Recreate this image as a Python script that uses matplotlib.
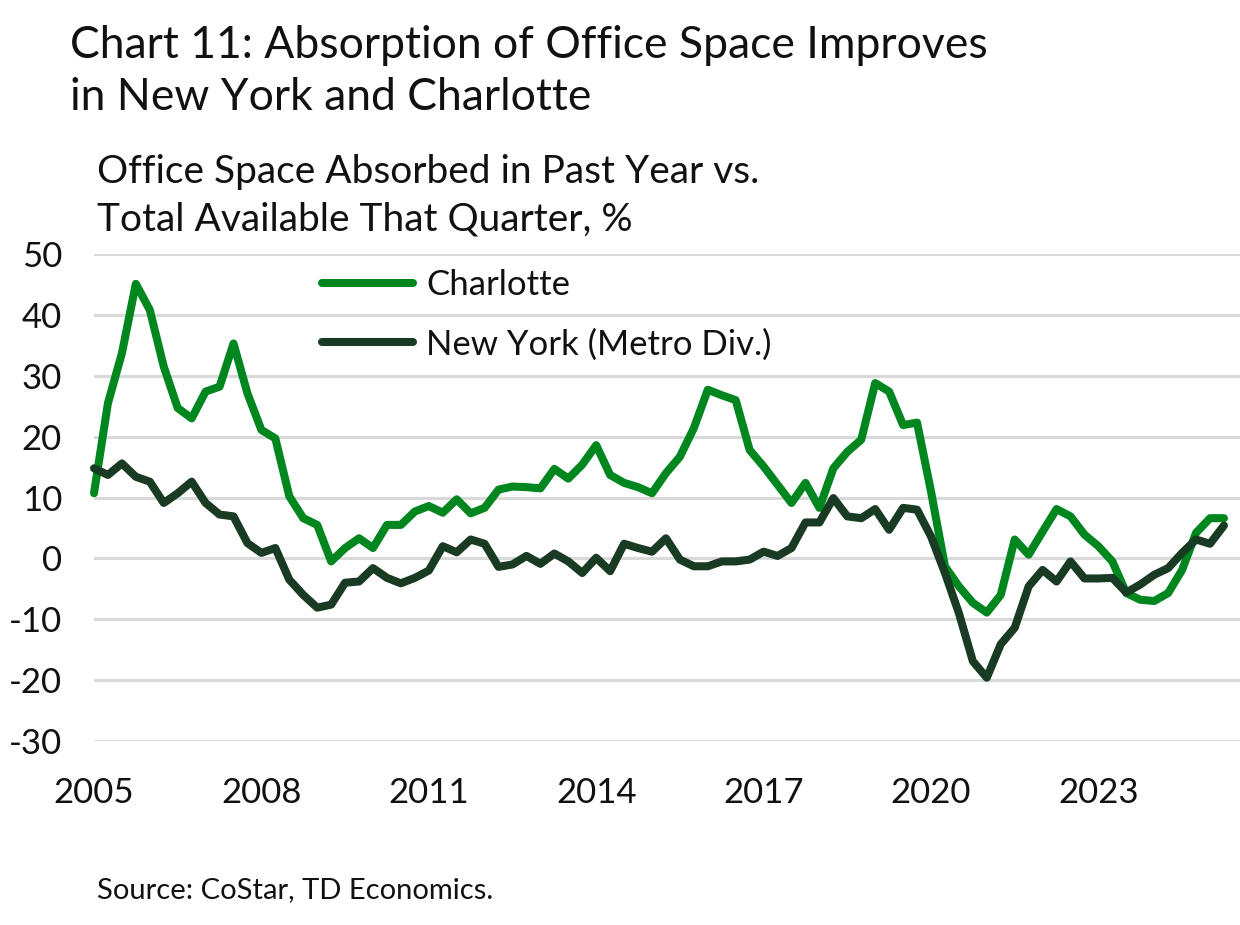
import matplotlib
matplotlib.use("Agg")
import matplotlib.pyplot as plt
import numpy as np

plt.rcParams['font.family'] = ['Lato', 'DejaVu Sans']
plt.rcParams['axes.unicode_minus'] = False

start_year = 2005
charlotte = [10.7, 25.5, 33.7, 45.1, 40.8, 31.5, 24.7, 23.0, 27.4, 28.2,
             35.3, 27.1, 21.1, 19.7, 10.2, 6.6, 5.5, -0.5, 1.7, 3.3,
             1.7, 5.5, 5.5, 7.7, 8.6, 7.5, 9.7, 7.4, 8.3, 11.3,
             11.8, 11.7, 11.5, 14.7, 13.1, 15.4, 18.6, 13.7, 12.4, 11.7,
             10.7, 14.0, 16.7, 21.4, 27.7, 26.8, 26.0, 17.8, 15.1, 12.1,
             9.1, 12.4, 8.3, 14.8, 17.5, 19.5, 28.8, 27.4, 21.9, 22.3,
             11.0, -1.3, -4.6, -7.3, -8.9, -6.0, 3.1, 0.6, 4.4, 8.1,
             6.9, 3.9, 2.0, -0.5, -5.7, -6.8, -7.0, -5.7, -1.9, 4.2,
             6.6, 6.6]
new_york = [14.8, 13.7, 15.6, 13.4, 12.6, 9.1, 10.7, 12.6, 9.1, 7.2,
            6.9, 2.5, 0.9, 1.7, -3.5, -6.0, -8.1, -7.6, -4.0, -3.8,
            -1.6, -3.2, -4.1, -3.2, -2.0, 2.0, 1.0, 3.1, 2.4, -1.4,
            -1.0, 0.4, -0.9, 0.8, -0.5, -2.4, 0.1, -2.1, 2.4, 1.7,
            1.1, 3.3, -0.2, -1.3, -1.3, -0.5, -0.5, -0.2, 1.1, 0.4,
            1.7, 5.9, 5.9, 9.9, 6.9, 6.6, 8.1, 4.7, 8.3, 8.0,
            3.6, -2.4, -9.0, -16.9, -19.6, -14.1, -11.4, -4.6, -1.9, -3.8,
            -0.5, -3.3, -3.3, -3.2, -5.6, -4.3, -2.7, -1.6, 0.9, 3.1,
            2.4, 5.4]
series_names = ["Charlotte", "New York (Metro Div.)"]
year_ticks = [2005, 2008, 2011, 2014, 2017, 2020, 2023]
y_ticks = [-30, -20, -10, 0, 10, 20, 30, 40, 50]

x = start_year + np.arange(len(charlotte)) / 4.0

W, H = 1240, 925
fig = plt.figure(figsize=(W / 100, H / 100), dpi=100)
left, right, top, bottom = 94, 1240, 254, 741
ax = fig.add_axes([left / W, 1 - bottom / H, (right - left) / W, (bottom - top) / H])

c_char = '#00861f'
c_ny = '#193a23'
ax.plot(x, charlotte, color=c_char, lw=5.8, solid_joinstyle='round', solid_capstyle='round',
        label=series_names[0], zorder=3, clip_on=False)
ax.plot(x, new_york, color=c_ny, lw=5.8, solid_joinstyle='round', solid_capstyle='round',
        label=series_names[1], zorder=4, clip_on=False)

ax.set_ylim(-30, 50)
ax.set_xlim(2005, 2005 + (right - left) / (13.95 * 4))
ax.set_yticks(y_ticks)
ax.set_xticks(year_ticks)
ax.set_xticklabels([str(y) for y in year_ticks])
ax.grid(axis='y', color='#d9d9d9', lw=2.2, zorder=0)
ax.grid(axis='x', visible=False)
for s in ax.spines.values():
    s.set_visible(False)
ax.tick_params(axis='both', length=0, labelsize=25, colors='#111111')
ax.tick_params(axis='y', pad=23)
ax.tick_params(axis='x', pad=26)

fig.text(70 / W, 1 - 45 / H, "Chart 11: Absorption of Office Space Improves", fontsize=32,
         va='center', ha='left', color='#111111')
fig.text(70 / W, 1 - 97 / H, "in New York and Charlotte", fontsize=32,
         va='center', ha='left', color='#111111')
fig.text(97 / W, 1 - 172 / H, "Office Space Absorbed in Past Year vs.", fontsize=28,
         va='center', ha='left', color='#111111')
fig.text(97 / W, 1 - 220 / H, "Total Available That Quarter, %", fontsize=28,
         va='center', ha='left', color='#111111')
fig.text(97 / W, 1 - 890 / H, "Source: CoStar, TD Economics.", fontsize=21,
         va='center', ha='left', color='#111111')

leg = ax.legend(loc='upper left', bbox_to_anchor=(291 / W, 1 - 238 / H),
                bbox_transform=fig.transFigure, frameon=False, fontsize=25,
                handlelength=2.6, handletextpad=0.4, labelspacing=0.78)
for t in leg.get_texts():
    t.set_color('#111111')

fig.savefig('out.png', dpi=100)
